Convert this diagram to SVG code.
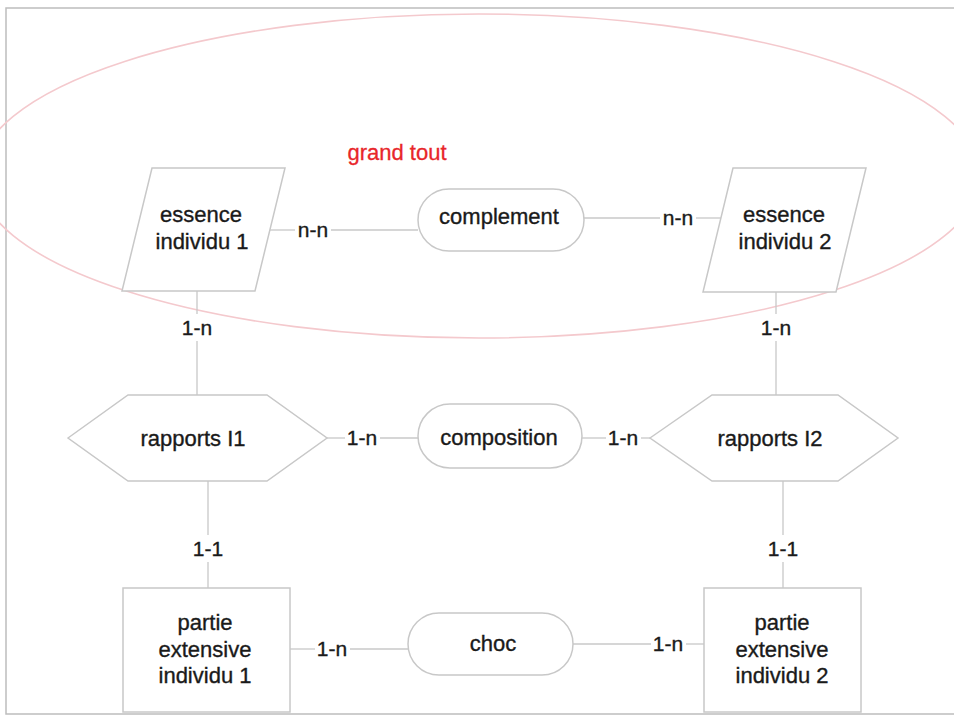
<svg xmlns="http://www.w3.org/2000/svg" width="954" height="716" viewBox="0 0 954 716">
  <style>
    .shape { fill: #ffffff; stroke: #c8c8c8; stroke-width: 1.5; }
    .link { stroke: #c8c8c8; stroke-width: 1.3; fill: none; }
    .txt { font-family: "Liberation Sans", Arial, sans-serif; font-size: 22px; fill: #1a1a1a; stroke: #1a1a1a; stroke-width: 0.35; text-anchor: middle; }
    .lbl { font-family: "Liberation Sans", Arial, sans-serif; font-size: 21px; fill: #1a1a1a; stroke: #1a1a1a; stroke-width: 0.35; text-anchor: middle; }
  </style>
  <rect width="954" height="716" fill="#ffffff"/>
  <!-- page frame -->
  <rect x="6" y="8" width="970" height="706" fill="none" stroke="#bdbdbd" stroke-width="1.5"/>

  <!-- the enclosing "grand tout" region -->
  <g id="grand-tout">
    <ellipse cx="479" cy="176" rx="501" ry="162" fill="none" stroke="#f4c9cd" stroke-width="1.6"/>
    <text x="397" y="160" font-family="Liberation Sans, Arial, sans-serif" font-size="22" fill="#e8262a" stroke="#e8262a" stroke-width="0.3" text-anchor="middle">grand tout</text>
  </g>

  <!-- connectors -->
  <g id="connectors" class="link">
    <line x1="270" y1="230" x2="295" y2="230"/>
    <line x1="331" y1="230" x2="418" y2="230"/>
    <line x1="584" y1="218" x2="660" y2="218"/>
    <line x1="696" y1="218" x2="721" y2="218"/>
    <line x1="197" y1="291" x2="197" y2="314"/>
    <line x1="197" y1="341" x2="197" y2="395"/>
    <line x1="776" y1="292" x2="776" y2="314"/>
    <line x1="776" y1="341" x2="776" y2="395"/>
    <line x1="327" y1="438" x2="345" y2="438"/>
    <line x1="380" y1="438" x2="418" y2="438"/>
    <line x1="582" y1="438" x2="606" y2="438"/>
    <line x1="641" y1="438" x2="650" y2="438"/>
    <line x1="208" y1="481" x2="208" y2="535"/>
    <line x1="208" y1="562" x2="208" y2="588"/>
    <line x1="783" y1="481" x2="783" y2="535"/>
    <line x1="783" y1="562" x2="783" y2="588"/>
    <line x1="290" y1="649" x2="315" y2="649"/>
    <line x1="350" y1="649" x2="408" y2="649"/>
    <line x1="573" y1="644" x2="651" y2="644"/>
    <line x1="686" y1="644" x2="704" y2="644"/>
  </g>

  <!-- cardinality labels -->
  <g id="cardinalities" class="lbl">
    <text x="313" y="237">n-n</text>
    <text x="678" y="225">n-n</text>
    <text x="197" y="335">1-n</text>
    <text x="776" y="335">1-n</text>
    <text x="362" y="445">1-n</text>
    <text x="623" y="445">1-n</text>
    <text x="208" y="556">1-1</text>
    <text x="783" y="556">1-1</text>
    <text x="332" y="656">1-n</text>
    <text x="668" y="651">1-n</text>
  </g>

  <g id="essence-individu-1">
    <polygon class="shape" points="152,168 285,168 255,291 122,291"/>
    <text class="txt" x="201" y="222">essence</text>
    <text class="txt" x="202" y="249">individu 1</text>
  </g>

  <g id="complement">
    <rect class="shape" x="418" y="189" width="166" height="62" rx="31"/>
    <text class="txt" x="499" y="224">complement</text>
  </g>

  <g id="essence-individu-2">
    <polygon class="shape" points="733,168 866,168 836,292 703,292"/>
    <text class="txt" x="784" y="222">essence</text>
    <text class="txt" x="785" y="249">individu 2</text>
  </g>

  <g id="rapports-i1">
    <polygon class="shape" points="68,438 128,395 267,395 327,438 267,481 128,481"/>
    <text class="txt" x="193" y="446">rapports I1</text>
  </g>

  <g id="composition">
    <rect class="shape" x="418" y="404" width="164" height="64" rx="32"/>
    <text class="txt" x="499" y="445">composition</text>
  </g>

  <g id="rapports-i2">
    <polygon class="shape" points="650,438 712,395 838,395 898,438 838,481 712,481"/>
    <text class="txt" x="770" y="446">rapports I2</text>
  </g>

  <g id="partie-extensive-individu-1">
    <rect class="shape" x="123" y="588" width="167" height="124"/>
    <text class="txt" x="205" y="630">partie</text>
    <text class="txt" x="205" y="657">extensive</text>
    <text class="txt" x="205" y="683">individu 1</text>
  </g>

  <g id="choc">
    <rect class="shape" x="408" y="613" width="165" height="62" rx="31"/>
    <text class="txt" x="493" y="651">choc</text>
  </g>

  <g id="partie-extensive-individu-2">
    <rect class="shape" x="704" y="588" width="157" height="124"/>
    <text class="txt" x="782" y="630">partie</text>
    <text class="txt" x="782" y="657">extensive</text>
    <text class="txt" x="782" y="683">individu 2</text>
  </g>
</svg>
